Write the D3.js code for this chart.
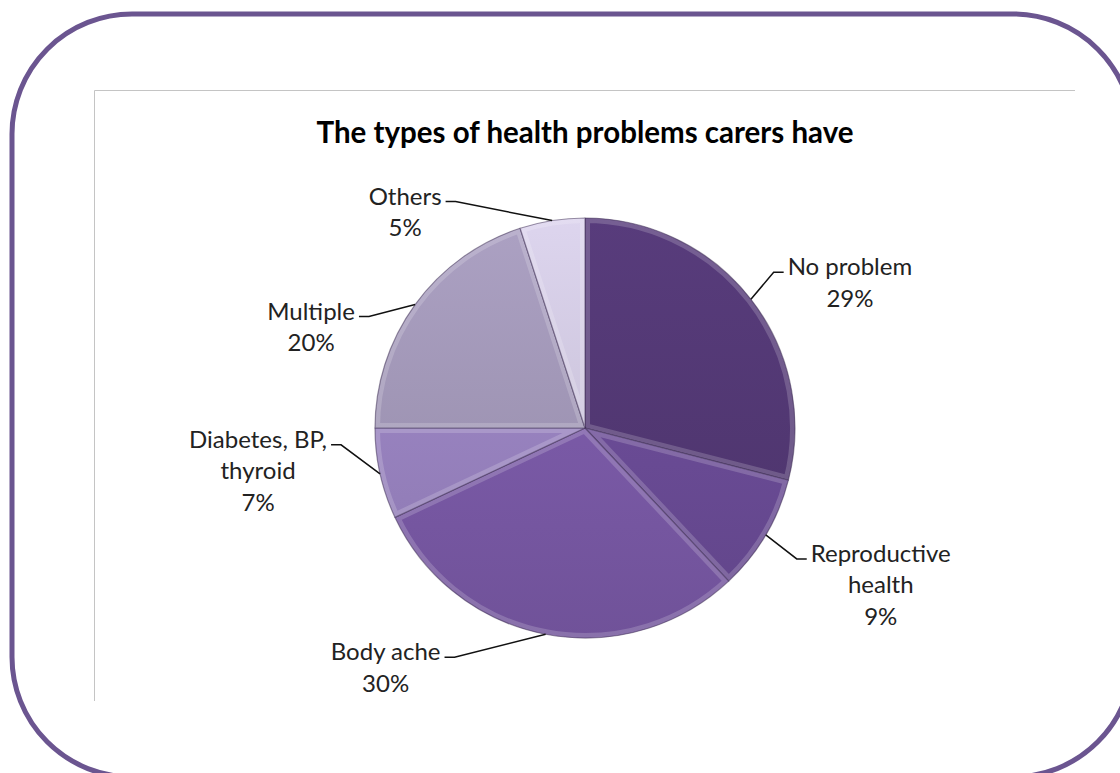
<!DOCTYPE html>
<html lang="en">
<head>
    <meta charset="UTF-8">
    <title>The types of health problems carers have</title>
    <script src="https://d3js.org/d3.v7.min.js"></script>
    <style>
        body { margin: 0; background: #fff; }
        svg { display: block; }
        text { font-family: Lato, "Noto Sans", sans-serif; fill: #222; }
    </style>
</head>
<body>
    <div id="chart"></div>

    <script>
        // data
        const categories = ["No problem", "Reproductive health", "Body ache", "Diabetes, BP, thyroid", "Multiple", "Others"];
        const percents = [29, 9, 30, 7, 20, 5];
        // how each label is broken into lines
        const labelLines = [
            ["No problem"],
            ["Reproductive", "health"],
            ["Body ache"],
            ["Diabetes, BP,", "thyroid"],
            ["Multiple"],
            ["Others"]
        ];
        const sliceColors = ["#523873", "#6a4b96", "#7a5aa7", "#9882bf", "#a096b6", "#cec6de"];

        // label placement relative to the leader anchor on the pie edge: [dx of text centre, dy of first baseline]
        const labelOffsets = [[99, -24], [115, 27], [-160, 26], [-122, -26], [-104, 15], [-147, -16]];

        const width = 1120, height = 773;
        const cx = 585, cy = 428, radius = 210;

        const svg = d3.select("#chart")
            .append("svg")
            .attr("width", width)
            .attr("height", height);

        // outer rounded frame
        svg.append("rect")
            .attr("x", 12)
            .attr("y", 14)
            .attr("width", 1121)
            .attr("height", 763)
            .attr("rx", 120)
            .attr("fill", "none")
            .attr("stroke", "#6b5590")
            .attr("stroke-width", 5);

        // chart area border (only top and left are visible)
        svg.append("path")
            .attr("d", "M94.5,701 V90.5 H1075")
            .attr("fill", "none")
            .attr("stroke", "#c4c4c4")
            .attr("stroke-width", 1);

        svg.append("text")
            .attr("x", 585)
            .attr("y", 143)
            .attr("text-anchor", "middle")
            .attr("font-size", 29.5)
            .attr("font-weight", "bold")
            .style("fill", "#000")
            .text("The types of health problems carers have");

        const pie = d3.pie().sort(null).value(d => d);
        const arcs = pie(percents);

        const arc = d3.arc().innerRadius(0).outerRadius(radius);
        const edgeArc = d3.arc().innerRadius(radius).outerRadius(radius);

        const defs = svg.append("defs");

        const g = svg.append("g")
            .attr("transform", `translate(${cx},${cy})`);

        arcs.forEach((a, i) => {
            const base = d3.color(sliceColors[i]);
            const grad = defs.append("linearGradient")
                .attr("id", "grad" + i)
                .attr("gradientUnits", "userSpaceOnUse")
                .attr("x1", 0).attr("y1", -radius)
                .attr("x2", 0).attr("y2", radius);
            grad.append("stop").attr("offset", "0%").attr("stop-color", base.brighter(0.2));
            grad.append("stop").attr("offset", "100%").attr("stop-color", base.darker(0.25));

            defs.append("clipPath")
                .attr("id", "clip" + i)
                .append("path")
                .attr("d", arc(a));
        });

        const slices = g.selectAll(".slice")
            .data(arcs)
            .enter().append("g")
            .attr("class", "slice");

        slices.append("path")
            .attr("d", arc)
            .attr("fill", (d, i) => `url(#grad${i})`);

        // soft bevel: light rim inside each slice
        slices.append("path")
            .attr("d", arc)
            .attr("clip-path", (d, i) => `url(#clip${i})`)
            .attr("fill", "none")
            .attr("stroke", "#ffffff")
            .attr("stroke-opacity", 0.18)
            .attr("stroke-width", 10)
            .attr("stroke-linejoin", "round");

        slices.append("path")
            .attr("d", arc)
            .attr("fill", "none")
            .attr("stroke", "#3a2a50")
            .attr("stroke-opacity", 0.5)
            .attr("stroke-width", 1.2)
            .attr("stroke-linejoin", "round");

        // labels with leader lines
        const labels = svg.append("g");

        arcs.forEach((a, i) => {
            const [ax, ay] = edgeArc.centroid(a);
            const px = cx + ax, py = cy + ay;
            const tx = px + labelOffsets[i][0];
            const ty = py + labelOffsets[i][1];

            const lines = labelLines[i].concat([percents[i] + "%"]);
            const t = labels.append("text")
                .attr("text-anchor", "middle")
                .attr("font-size", 24);
            lines.forEach((s, k) => {
                t.append("tspan")
                    .attr("x", tx)
                    .attr("y", ty + k * 31.5)
                    .text(s);
            });

            const firstWidth = t.select("tspan").node().getComputedTextLength();
            const onRight = px > cx;
            const edgeX = onRight ? tx - firstWidth / 2 - 4 : tx + firstWidth / 2 + 4;
            const elbowX = onRight ? edgeX - 10 : edgeX + 10;
            const ly = ty - 3;

            labels.append("path")
                .attr("d", `M${edgeX},${ly} H${elbowX} L${px},${py}`)
                .attr("fill", "none")
                .attr("stroke", "#111")
                .attr("stroke-width", 1.5);
        });
    </script>
</body>
</html>
